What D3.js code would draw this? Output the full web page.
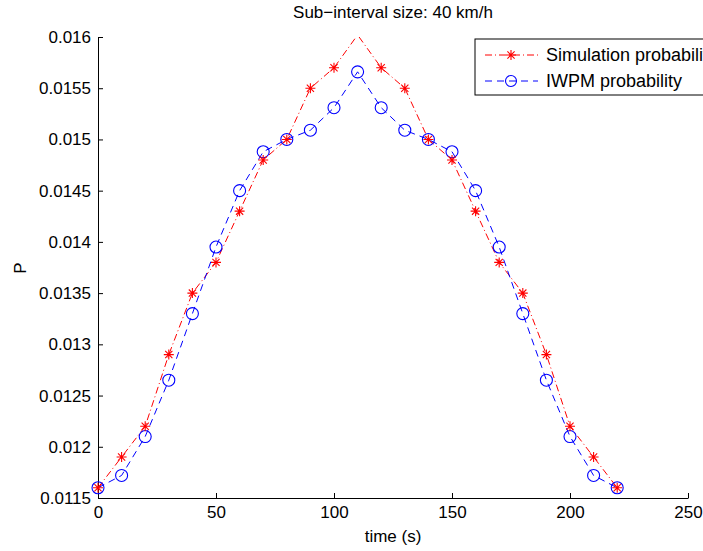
<html>
<head>
<script src="https://d3js.org/d3.v7.min.js"></script>
<style>
  body { margin: 0; background: #fff; }
  text { font-family: "Liberation Sans", Arial, sans-serif; }
</style>
</head>
<body>
<div id="chart"></div>
<script>
// data
var times = [0, 10, 20, 30, 40, 50, 60, 70, 80, 90, 100, 110, 120, 130, 140, 150, 160, 170, 180, 190, 200, 210, 220];
var simProb = [0.0116, 0.0119, 0.0122, 0.0129, 0.0135, 0.0138, 0.0143, 0.0148, 0.0150, 0.0155, 0.0157, 0.01602,
               0.0157, 0.0155, 0.0150, 0.0148, 0.0143, 0.0138, 0.0135, 0.0129, 0.0122, 0.0119, 0.0116];
var iwpmProb = [0.0116, 0.01172, 0.0121, 0.01265, 0.0133, 0.01395, 0.0145, 0.01488, 0.0150, 0.01509, 0.01531, 0.01566,
                0.01531, 0.01509, 0.0150, 0.01488, 0.0145, 0.01395, 0.0133, 0.01265, 0.0121, 0.01172, 0.0116];
var xTicks = [0, 50, 100, 150, 200, 250];
var yTicks = [0.0115, 0.012, 0.0125, 0.013, 0.0135, 0.014, 0.0145, 0.015, 0.0155, 0.016];
var seriesNames = ["Simulation probability", "IWPM probability"];

var W = 703, H = 551;
var pL = 98, pR = 688, pT = 37, pB = 498;
var fs = "17px";

var svg = d3.select("#chart").append("svg")
    .attr("width", W)
    .attr("height", H);

var x = d3.scaleLinear().domain([0, 250]).range([pL, pR]);
var y = d3.scaleLinear().domain([0.0115, 0.016]).range([pB, pT]);

svg.append("clipPath").attr("id", "plotclip")
  .append("rect")
    .attr("x", pL).attr("y", pT)
    .attr("width", pR - pL).attr("height", pB - pT);

// axes (MATLAB style, ticks pointing in)
var xAxis = svg.append("g")
    .attr("transform", "translate(0," + pB + ")")
    .call(d3.axisBottom(x).tickValues(xTicks).tickSizeInner(-5).tickSizeOuter(0).tickPadding(8));
var yAxis = svg.append("g")
    .attr("transform", "translate(" + pL + ",0)")
    .call(d3.axisLeft(y).tickValues(yTicks).tickSizeInner(-5).tickSizeOuter(0).tickPadding(7)
        .tickFormat(function(d){ return String(+d.toFixed(4)); }));

[xAxis, yAxis].forEach(function(a){
  a.selectAll("path").attr("stroke", "#000").attr("stroke-width", 1);
  a.selectAll("line").attr("stroke", "#000");
  a.selectAll("text").attr("fill", "#000").style("font-size", fs)
   .style("font-family", "'Liberation Sans', Arial, sans-serif");
});

var line = d3.line()
    .x(function(d){ return x(d[0]); })
    .y(function(d){ return y(d[1]); });

var simData = times.map(function(t, i){ return [t, simProb[i]]; });
var iwpmData = times.map(function(t, i){ return [t, iwpmProb[i]]; });

var plot = svg.append("g").attr("clip-path", "url(#plotclip)");

plot.append("path").datum(simData)
    .attr("d", line)
    .attr("fill", "none")
    .attr("stroke", "#ff0000")
    .attr("stroke-width", 1)
    .attr("stroke-dasharray", "7,3,1,3");

plot.append("path").datum(iwpmData)
    .attr("d", line)
    .attr("fill", "none")
    .attr("stroke", "#0000ff")
    .attr("stroke-width", 1)
    .attr("stroke-dasharray", "7,5");

function star(g, cx, cy) {
  var r = 5, d = 3.6;
  var p = "M" + (cx - r) + "," + cy + "H" + (cx + r) +
          "M" + cx + "," + (cy - r) + "V" + (cy + r) +
          "M" + (cx - d) + "," + (cy - d) + "L" + (cx + d) + "," + (cy + d) +
          "M" + (cx - d) + "," + (cy + d) + "L" + (cx + d) + "," + (cy - d);
  g.append("path").attr("d", p).attr("stroke", "#ff0000").attr("stroke-width", 1.1).attr("fill", "none");
}

var inDomain = function(d){ return d[1] <= 0.016; };

iwpmData.filter(inDomain).forEach(function(d){
  svg.append("circle")
    .attr("cx", x(d[0])).attr("cy", y(d[1])).attr("r", 6)
    .attr("fill", "none").attr("stroke", "#0000ff").attr("stroke-width", 1.1);
});
var stars = svg.append("g");
simData.filter(inDomain).forEach(function(d){ star(stars, x(d[0]), y(d[1])); });

// title and axis labels
svg.append("text")
    .attr("x", (pL + pR) / 2).attr("y", 18)
    .attr("text-anchor", "middle")
    .style("font-size", fs)
    .text("Sub\u2212interval size: 40 km/h");

svg.append("text")
    .attr("x", (pL + pR) / 2).attr("y", 542)
    .attr("text-anchor", "middle")
    .style("font-size", fs)
    .text("time (s)");

svg.append("text")
    .attr("transform", "translate(26," + 268 + ") rotate(-90)")
    .attr("text-anchor", "middle")
    .style("font-size", fs)
    .text("P");

// legend
var lg = svg.append("g");
lg.append("rect")
    .attr("x", 475).attr("y", 39)
    .attr("width", 260).attr("height", 56)
    .attr("fill", "#fff").attr("stroke", "#000").attr("stroke-width", 1);

var legendRows = [
  { name: seriesNames[0], color: "#ff0000", dash: "7,3,1,3", y: 55, mark: "star" },
  { name: seriesNames[1], color: "#0000ff", dash: "7,5", y: 81, mark: "circle" }
];
legendRows.forEach(function(r){
  lg.append("line")
    .attr("x1", 485).attr("x2", 538).attr("y1", r.y).attr("y2", r.y)
    .attr("stroke", r.color).attr("stroke-width", 1).attr("stroke-dasharray", r.dash);
  if (r.mark === "star") star(lg, 511, r.y);
  else lg.append("circle").attr("cx", 511).attr("cy", r.y).attr("r", 5.5)
      .attr("fill", "none").attr("stroke", r.color).attr("stroke-width", 1.1);
  lg.append("text")
    .attr("x", 546).attr("y", r.y + 6)
    .style("font-size", "18px")
    .text(r.name);
});
</script>
</body>
</html>
